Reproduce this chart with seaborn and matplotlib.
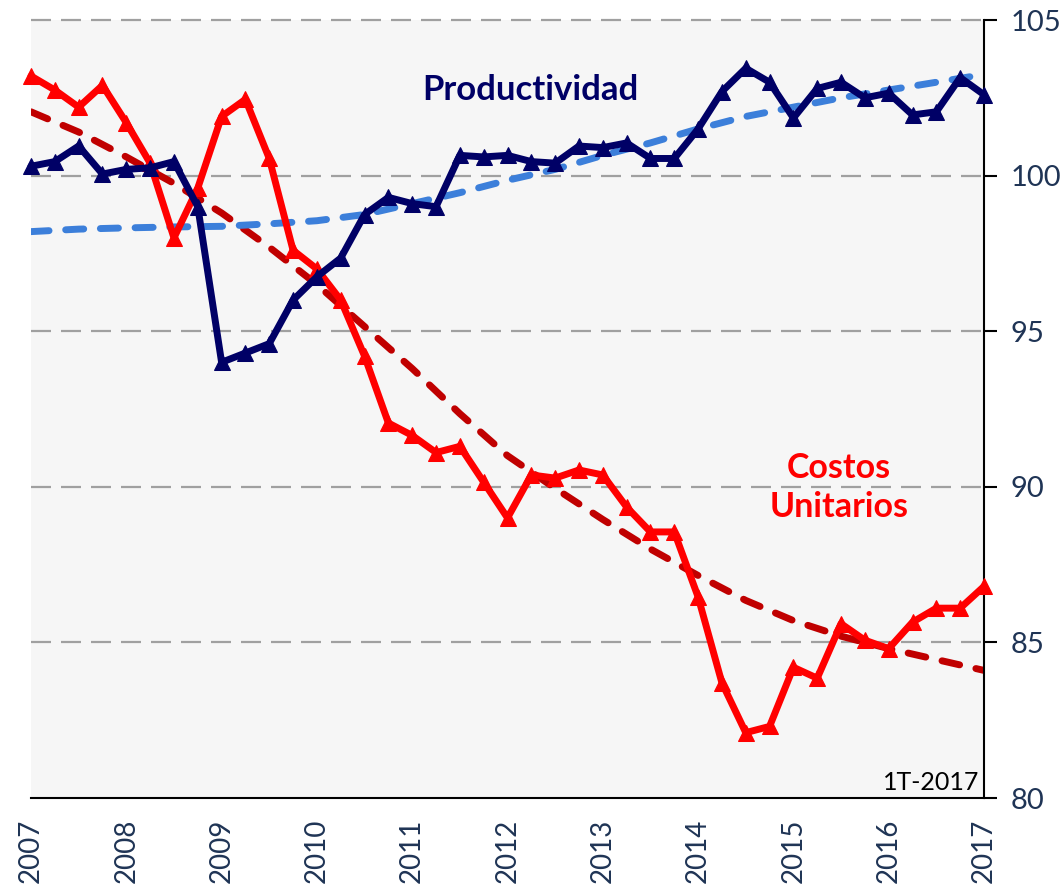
import numpy as np
import pandas as pd
import matplotlib
matplotlib.use("Agg")
import matplotlib.pyplot as plt
import seaborn as sns

# ---- data (quarterly, 1T-2007 .. 1T-2017) ----
productividad = [100.3, 100.45, 100.95, 100.05, 100.2, 100.25, 100.45, 99.0,
                 94.0, 94.3, 94.6, 96.0, 96.75, 97.35, 98.75, 99.3,
                 99.1, 99.0, 100.65, 100.6, 100.65, 100.45, 100.4, 100.95,
                 100.9, 101.05, 100.55, 100.55, 101.5, 102.7, 103.45, 103.0,
                 101.85, 102.8, 103.0, 102.5, 102.65, 101.95, 102.05, 103.15,
                 102.6]
costos_unitarios = [103.2, 102.75, 102.2, 102.9, 101.7, 100.4, 98.0, 99.6,
                    101.9, 102.45, 100.55, 97.6, 97.0, 96.0, 94.2, 92.05,
                    91.65, 91.1, 91.3, 90.15, 89.0, 90.38, 90.28, 90.54,
                    90.38, 89.35, 88.55, 88.55, 86.46, 83.7, 82.1, 82.3,
                    84.2, 83.85, 85.6, 85.07, 84.8, 85.65, 86.1, 86.1,
                    86.8]
# trend lines every half year (2007.0 .. 2017.0)
tendencia_costos = [102.05, 101.4, 100.6, 99.75, 98.8, 97.7, 96.5, 95.15, 93.8,
                    92.35, 91.0, 89.95, 88.95, 88.0, 87.15, 86.35, 85.7, 85.2,
                    84.8, 84.45, 84.1]
tendencia_prod = [98.2, 98.28, 98.32, 98.35, 98.37, 98.45, 98.55, 98.75, 99.1,
                  99.45, 99.85, 100.2, 100.65, 101.05, 101.5, 101.9, 102.2,
                  102.5, 102.75, 103.0, 103.25]
start_year = 2007
year_ticks = list(range(2007, 2018))
y_ticks = [80, 85, 90, 95, 100, 105]

n = len(productividad)
t = start_year + np.arange(n) / 4.0
df = pd.DataFrame({"t": t, "prod": productividad, "cu": costos_unitarios})
tt = start_year + np.arange(len(tendencia_costos)) / 2.0
dft = pd.DataFrame({"t": tt, "cu": tendencia_costos, "prod": tendencia_prod})

# ---- style ----
sns.set_theme(style="white")
plt.rcParams["font.family"] = ["Lato", "DejaVu Sans"]

NAVY = "#000066"
RED = "#FF0000"
DARKRED = "#C00000"
LBLUE = "#3C7FDA"
TXT = "#1F3455"

fig = plt.figure(figsize=(10.63, 8.86), dpi=100)
ax = fig.add_axes([31 / 1063, 1 - 798 / 886, (984 - 31) / 1063, (798 - 20) / 886])
ax.set_facecolor("#F6F6F6")

# gridlines
for yv in y_ticks[1:]:
    ax.axhline(yv, color="#A0A0A0", lw=1.6, ls=(0, (9, 4.5)), zorder=1, clip_on=False)

# trend lines
dash = (0, (2.6, 2.4))
sns.lineplot(data=dft, x="t", y="cu", ax=ax, color=DARKRED, lw=5, ls=dash,
             dash_capstyle="round", zorder=2)
sns.lineplot(data=dft, x="t", y="prod", ax=ax, color=LBLUE, lw=5, ls=dash,
             dash_capstyle="round", zorder=2)

# series
sns.lineplot(data=df, x="t", y="cu", ax=ax, color=RED, lw=5, marker="^",
             markersize=11.5, markeredgecolor=RED, zorder=3, clip_on=False)
sns.lineplot(data=df, x="t", y="prod", ax=ax, color=NAVY, lw=5, marker="^",
             markersize=11.5, markeredgecolor=NAVY, zorder=4, clip_on=False)

ax.set_xlim(year_ticks[0], year_ticks[-1])
ax.set_ylim(y_ticks[0], y_ticks[-1])
ax.set_xlabel("")
ax.set_ylabel("")

ax.set_xticks(year_ticks)
ax.set_xticklabels([str(y) for y in year_ticks], rotation=90, fontsize=20, color=TXT)
ax.yaxis.tick_right()
ax.set_yticks(y_ticks)
ax.set_yticklabels([str(v) for v in y_ticks], fontsize=21, color=TXT)
ax.tick_params(axis="x", direction="out", length=9, width=1.5, color="black", pad=6)
ax.tick_params(axis="y", direction="out", length=9, width=1.5, color="black", pad=10)

for s in ["top", "left"]:
    ax.spines[s].set_visible(False)
for s in ["bottom", "right"]:
    ax.spines[s].set_color("black")
    ax.spines[s].set_linewidth(1.5)

# annotations
ax.text(0.5236, 0.91, "Productividad", transform=ax.transAxes, ha="center", va="center",
        fontsize=25, fontweight="bold", color=NAVY)
ax.text(0.848, 0.399, "Costos\nUnitarios", transform=ax.transAxes, ha="center", va="center",
        fontsize=24.5, fontweight="bold", color=RED, linespacing=1.3)
ax.text(0.995, 0.005, "1T-2017", transform=ax.transAxes, ha="right", va="bottom",
        fontsize=18, color="black")

fig.savefig("out.png", dpi=100)
